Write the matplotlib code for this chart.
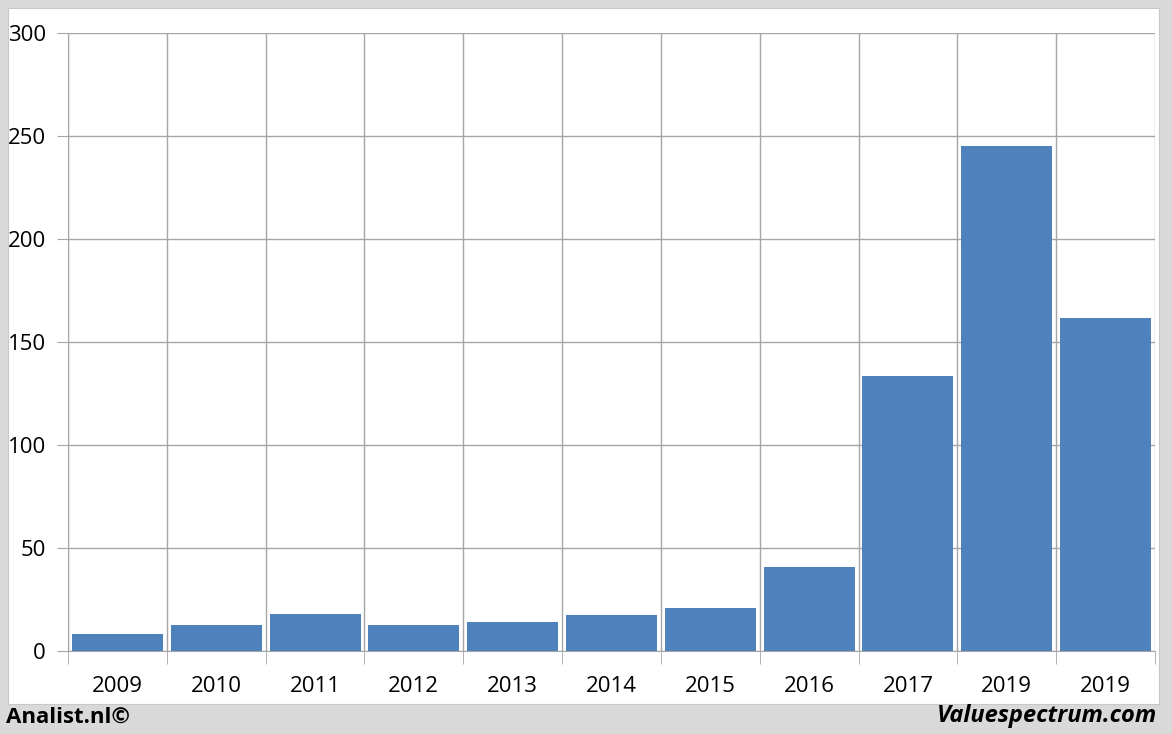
import matplotlib.pyplot as plt
from matplotlib.patches import Rectangle
import numpy as np

years = ["2009", "2010", "2011", "2012", "2013", "2014", "2015", "2016", "2017", "2019", "2019"]
values = [8.3, 12.6, 18.0, 12.6, 14.0, 17.5, 21.0, 40.8, 133.6, 245.2, 161.8]
yticks = [0, 50, 100, 150, 200, 250, 300]

W, H = 1172, 734
fig = plt.figure(figsize=(W / 100, H / 100), dpi=100)
fig.patch.set_facecolor("#d9d9d9")
# white panel behind the axes
fig.patches.append(Rectangle((8 / W, 1 - 704 / H), (1159 - 8) / W, (704 - 8) / H,
                             transform=fig.transFigure, facecolor="white",
                             edgecolor="#c8c8c8", linewidth=0.8, zorder=-5))

ax = fig.add_axes([68 / W, 1 - 651 / H, (1155 - 68) / W, (651 - 33) / H])
ax.set_zorder(2)
ax.set_facecolor("white")
x = np.arange(len(years))
ax.bar(x, values, width=0.92, color="#4f81bd", zorder=3)

ax.set_xlim(-0.5, len(years) - 0.5)
ax.set_ylim(0, 300)
ax.set_yticks(yticks)
ax.set_xticks(x)
ax.set_xticklabels(years)
ax.set_xticks(np.arange(len(years) + 1) - 0.5, minor=True)

ax.grid(axis="y", which="major", color="#a6a6a6", linewidth=1, zorder=1)
ax.grid(axis="x", which="minor", color="#a6a6a6", linewidth=1, zorder=1)
ax.grid(axis="x", which="major", visible=False)

ax.tick_params(axis="x", which="major", length=0, pad=18, labelsize=16)
ax.tick_params(axis="x", which="minor", length=9, color="#a6a6a6", direction="out")
ax.tick_params(axis="y", length=8, color="#a6a6a6", direction="out", pad=8, labelsize=16)
for lab in ax.get_xticklabels() + ax.get_yticklabels():
    lab.set_fontfamily("Open Sans")

for s in ["top", "right"]:
    ax.spines[s].set_visible(False)
ax.spines["left"].set_color("#a6a6a6")
ax.spines["bottom"].set_color("#a6a6a6")

fig.text(6 / W, 1 - 717 / H, "Analist.nl©", fontsize=16, fontweight="bold",
         family="Open Sans", va="center", ha="left")
fig.text(1157 / W, 1 - 716 / H, "Valuespectrum.com", fontsize=17, fontweight="bold",
         style="italic", family="Open Sans", va="center", ha="right")

fig.savefig("out.png", dpi=100, facecolor=fig.get_facecolor())
